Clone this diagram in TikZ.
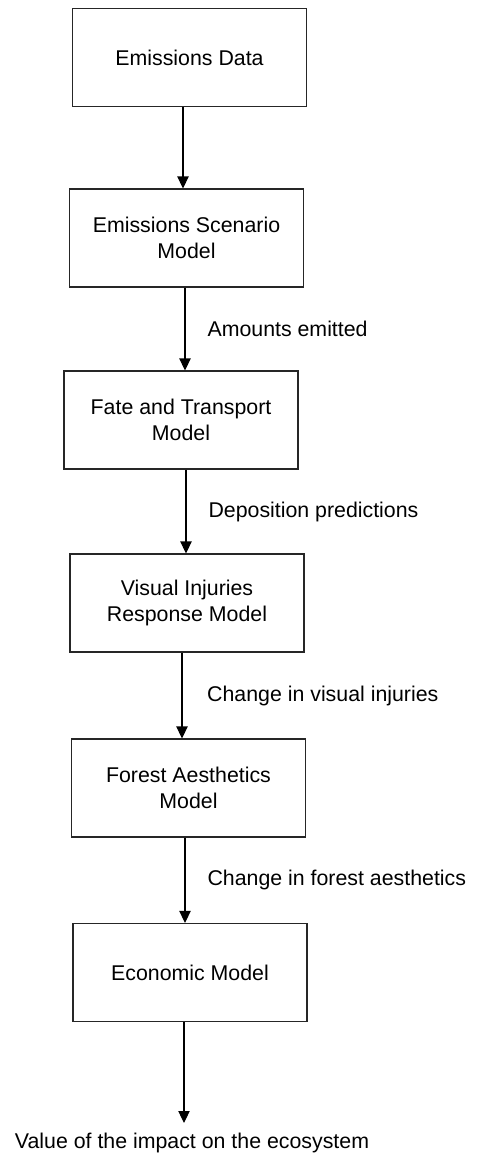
\documentclass[tikz,border=0pt]{standalone}
\usepackage{fontspec}
\setmainfont{Liberation Sans}
\usepackage{tikz}
\usetikzlibrary{arrows.meta,positioning}
\tikzset{
  box/.style={draw=black!85,line width=0.8pt,minimum width=175.5pt,minimum height=73.5pt,
    align=center,inner sep=0pt,font=\fontsize{16pt}{19.5pt}\selectfont},
  flow/.style={-{Triangle[length=9pt,width=8.5pt]},line width=0.8pt},
  lbl/.style={inner sep=0pt,font=\fontsize{16pt}{19.5pt}\selectfont}
}

\begin{document}
\begin{tikzpicture}[x=0.75pt,y=-0.75pt]
\useasboundingbox (0,0) rectangle (481,1158);
\node[box] (data) at (189.5,57.5) {Emissions Data};
\node[box] (scen) at (186.5,238) {Emissions Scenario\\Model};
\node[box] (fate) at (181,420) {Fate and Transport\\Model};
\node[box] (resp) at (187,603) {Visual Injuries\\Response Model};
\node[box] (aest) at (188.5,788) {Forest Aesthetics\\Model};
\node[box] (econ) at (190,972.5) {Economic Model};
\node[lbl,anchor=north,inner ysep=7pt] (value) at (192,1123) {Value of the impact on the ecosystem};
% model chain
\draw[flow] (data.south -| 183,0) -- (scen.north -| 183,0);
\draw[flow] (scen.south -| 185,0) -- (fate.north -| 185,0)
  node[lbl,midway,anchor=west,xshift=16.5pt] (amounts) {Amounts emitted};
\draw[flow] (fate.south -| 186,0) -- (resp.north -| 186,0)
  node[lbl,midway,anchor=west,xshift=16.5pt] (depos) {Deposition predictions};
\draw[flow] (resp.south -| 182,0) -- (aest.north -| 182,0)
  node[lbl,midway,anchor=west,xshift=18.5pt] (injur) {Change in visual injuries};
\draw[flow] (aest.south -| 185,0) -- (econ.north -| 185,0)
  node[lbl,midway,anchor=west,xshift=16.5pt] (aesth) {Change in forest aesthetics};
\draw[flow] (econ.south -| 184,0) -- (value.north -| 184,0);
\end{tikzpicture}
\end{document}
